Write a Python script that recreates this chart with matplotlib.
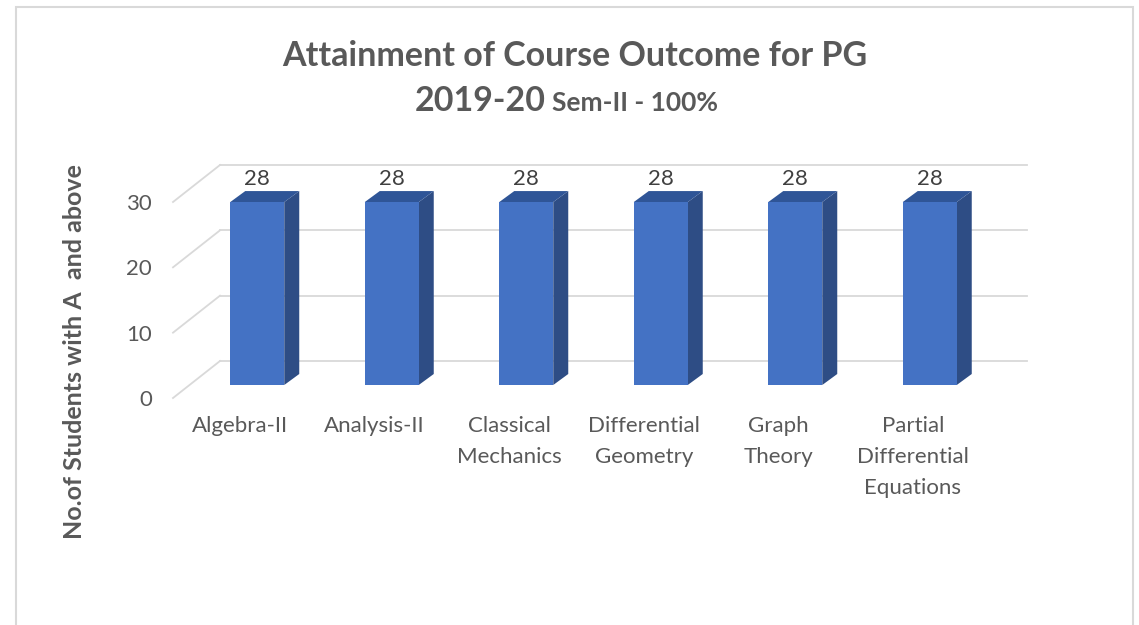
import numpy as np
import matplotlib.pyplot as plt
from matplotlib.patches import Polygon, Rectangle

# data
courses = ['Algebra-II', 'Analysis-II', 'Classical\nMechanics', 'Differential\nGeometry',
           'Graph\nTheory', 'Partial\nDifferential\nEquations']
students = [28, 28, 28, 28, 28, 28]
y_ticks = [0, 10, 20, 30]

W, H = 1139, 625
plt.rcParams['font.family'] = ['Lato', 'DejaVu Sans']

fig = plt.figure(figsize=(W / 100, H / 100), dpi=100)

# front (label) plane of the fake 3D box, in pixels
left_px, right_px = 173, 980
y0_px, y30_px = 398, 202      # from top
ax = fig.add_axes([left_px / W, (H - y0_px) / H, (right_px - left_px) / W, (y0_px - y30_px) / H])
ax.set_xlim(-0.5, len(courses) - 0.5)
ax.set_ylim(0, 30)

# pixel -> data unit conversion
px_x = (right_px - left_px) / len(courses)
px_y = (y0_px - y30_px) / 30.0

# depth offsets (pixels right / up)
wall_dx, wall_dy = 47 / px_x, 37 / px_y      # back wall
front_dx, front_dy = 17 / px_x, 13 / px_y    # bar front face
depth_dx, depth_dy = 15 / px_x, 11 / px_y    # bar depth
bar_w = 54 / px_x

grid_col = '#d9d9d9'
for t in y_ticks:
    ax.plot([-0.5 + wall_dx, len(courses) - 0.5 + wall_dx], [t + wall_dy, t + wall_dy],
            color=grid_col, lw=1.3, clip_on=False, zorder=1)
    ax.plot([-0.5, -0.5 + wall_dx], [t, t + wall_dy], color=grid_col, lw=1.3, clip_on=False, zorder=1)

x = np.arange(len(courses))
ax.bar(x + front_dx, students, width=bar_w, bottom=front_dy, color='#4472C4', zorder=3,
       clip_on=False)
for xi, v in zip(x, students):
    xl = xi + front_dx - bar_w / 2
    xr = xi + front_dx + bar_w / 2
    yb = front_dy
    yt = v + front_dy
    side = Polygon([(xr, yb), (xr + depth_dx, yb + depth_dy), (xr + depth_dx, yt + depth_dy), (xr, yt)],
                   closed=True, fc='#2E4D85', ec='none', zorder=2, clip_on=False)
    top = Polygon([(xl, yt), (xl + depth_dx, yt + depth_dy), (xr + depth_dx, yt + depth_dy), (xr, yt)],
                  closed=True, fc='#2F5597', ec='none', zorder=2, clip_on=False)
    ax.add_patch(side)
    ax.add_patch(top)
    ax.text(xi + front_dx, yt + depth_dy + 12 / px_y, str(v), ha='center', va='center',
            fontsize=16, color='#404040', zorder=4)

ax.set_xticks(x)
ax.set_xticklabels(courses, fontsize=16, color='#595959', linespacing=1.7)
ax.set_yticks(y_ticks)
ax.set_yticklabels([str(t) for t in y_ticks], fontsize=16, color='#595959')
ax.tick_params(axis='x', length=0, pad=13)
ax.tick_params(axis='y', length=0, pad=15)
for s in ax.spines.values():
    s.set_visible(False)
ax.patch.set_alpha(0)

# titles
fig.text(575 / W, 1 - 56 / H, 'Attainment of Course Outcome for PG', ha='center', va='center',
         fontsize=24.5, fontweight='bold', color='#595959')
fig.text(546 / W, 1 - 111 / H, '2019-20', ha='right', va='baseline',
         fontsize=24.5, fontweight='bold', color='#595959')
fig.text(552 / W, 1 - 111 / H, 'Sem-II - 100%', ha='left', va='baseline',
         fontsize=19, fontweight='bold', color='#595959')
fig.text(75 / W, 1 - 352 / H, 'No.of Students with A  and above', rotation=90, ha='center', va='center',
         fontsize=18, fontweight='bold', color='#595959')

# chart frame
fig.add_artist(Rectangle((16 / W, -0.1), (1133 - 16) / W, 1.1 - 7 / H, transform=fig.transFigure,
                         fill=False, ec='#d9d9d9', lw=1.5))

fig.savefig('out.png', dpi=100, facecolor='white')
